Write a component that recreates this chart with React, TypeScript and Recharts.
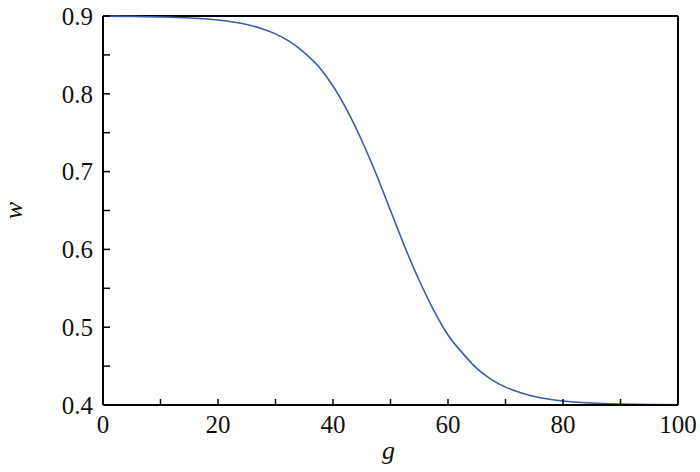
import React from "react";
import { LineChart, Line, XAxis, YAxis, ReferenceLine } from "recharts";

// g values and read-off w values
const gValues = [0, 5, 10, 15, 20, 25, 27.5, 30, 32.5, 35, 37.5, 40, 42.5, 45, 47.5, 50, 52.5, 55, 57.5, 60, 62.5, 65, 67.5, 70, 72.5, 75, 80, 85, 90, 95, 100];
const wValues = [0.8998, 0.8995, 0.8988, 0.8975, 0.8948, 0.889, 0.884, 0.877, 0.867, 0.853, 0.835, 0.81, 0.778, 0.74, 0.697, 0.65, 0.603, 0.56, 0.522, 0.49, 0.467, 0.447, 0.433, 0.423, 0.416, 0.411, 0.4052, 0.4025, 0.4012, 0.4005, 0.4002];

const xTicks = [0, 10, 20, 30, 40, 50, 60, 70, 80, 90, 100];
const yTicks = [0.4, 0.45, 0.5, 0.55, 0.6, 0.65, 0.7, 0.75, 0.8, 0.85, 0.9];

const data = gValues.map((g, i) => ({ g, w: wValues[i] }));

const FONT = '"Times New Roman", "Liberation Serif", Times, serif';
const LINE = "#3a5ca6";

const xFmt = (v: number) => (v % 20 === 0 ? String(v) : "");
const yFmt = (v: number) =>
  Math.abs(v * 10 - Math.round(v * 10)) < 1e-6 ? v.toFixed(1) : "";

const tickStyle = { fontSize: 25, fill: "#111", fontFamily: FONT };

export default function App() {
  return (
    <div
      style={{
        position: "absolute",
        left: 0,
        top: 0,
        background: "#fff",
        fontFamily: FONT,
      }}
    >
      <LineChart
        width={700}
        height={472}
        data={data}
        margin={{ top: 16, right: 22, bottom: 0, left: 5 }}
      >
        <XAxis
          dataKey="g"
          type="number"
          domain={[0, 100]}
          ticks={xTicks}
          tickFormatter={xFmt}
          interval={0}
          height={67}
          tickSize={-6}
          tickMargin={16}
          axisLine={{ stroke: "#000", strokeWidth: 2 }}
          tickLine={{ stroke: "#000", strokeWidth: 1.5 }}
          tick={tickStyle}
          label={({ viewBox }: any) => (
            <text
              x={viewBox.x + viewBox.width / 2 - 2}
              y={viewBox.y + 54}
              textAnchor="middle"
              fontSize={26}
              fontStyle="italic"
              fontFamily={FONT}
              fill="#111"
            >
              g
            </text>
          )}
        />
        <YAxis
          dataKey="w"
          type="number"
          domain={[0.4, 0.9]}
          ticks={yTicks}
          tickFormatter={yFmt}
          interval={0}
          width={98}
          tickSize={-7}
          tickMargin={17}
          axisLine={{ stroke: "#000", strokeWidth: 2 }}
          tickLine={{ stroke: "#000", strokeWidth: 1.5 }}
          tick={tickStyle}
          label={({ viewBox }: any) => {
            const cx = 22;
            const cy = viewBox.y + viewBox.height / 2;
            return (
              <text
                x={cx}
                y={cy}
                transform={`rotate(-90 ${cx} ${cy})`}
                textAnchor="middle"
                fontSize={26}
                fontStyle="italic"
                fontFamily={FONT}
                fill="#111"
              >
                w
              </text>
            );
          }}
        />
        <ReferenceLine y={0.9} stroke="#000" strokeWidth={2} ifOverflow="visible" />
        <ReferenceLine x={100} stroke="#000" strokeWidth={2} ifOverflow="visible" />
        <Line
          dataKey="w"
          type="monotone"
          stroke={LINE}
          strokeWidth={1.6}
          dot={false}
          isAnimationActive={false}
        />
      </LineChart>
    </div>
  );
}
